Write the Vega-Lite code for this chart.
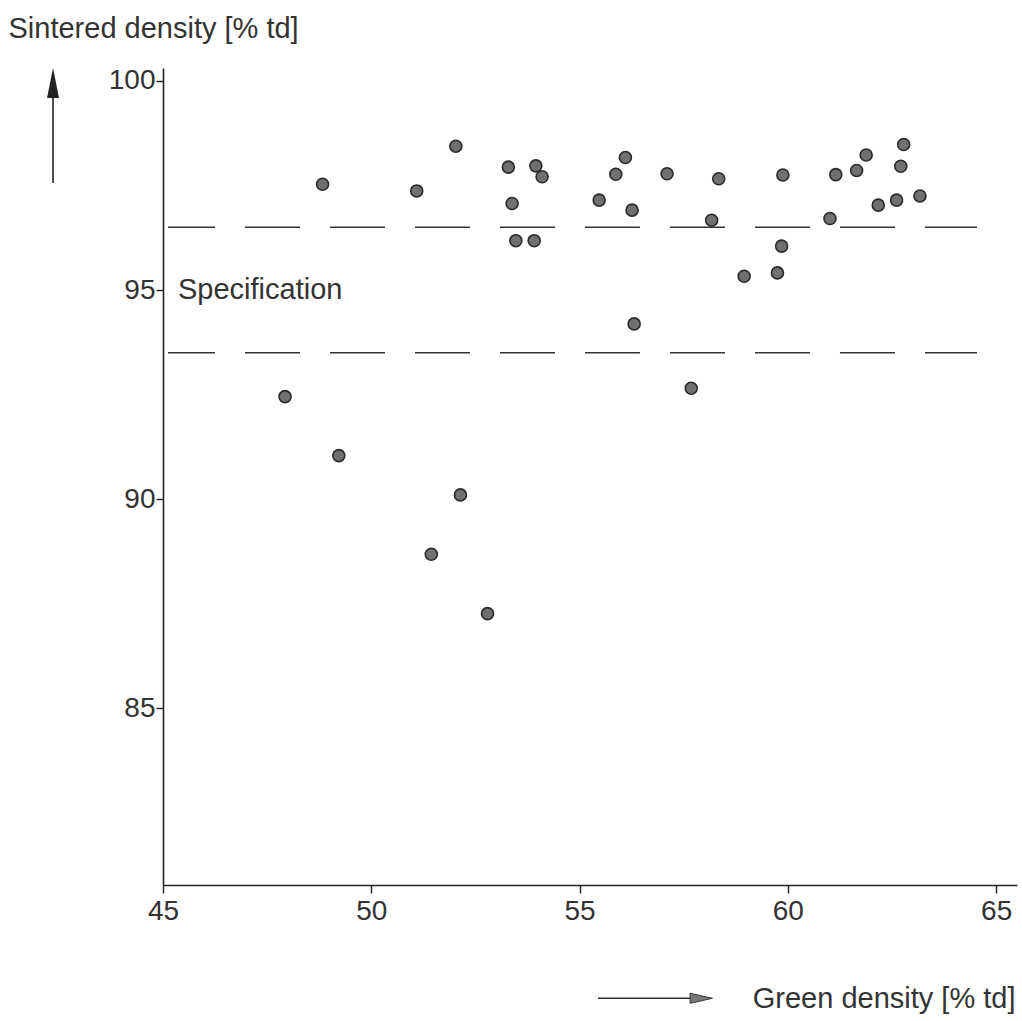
{
  "$schema": "https://vega.github.io/schema/vega-lite/v6.json",
  "autosize": "none",
  "width": 854,
  "height": 817,
  "padding": {"left": 163, "top": 68, "right": 5, "bottom": 136},
  "background": "white",
  "config": {
    "view": {"stroke": null},
    "font": "Liberation Sans, Arial, sans-serif",
    "axis": {
      "grid": false,
      "domainColor": "#222",
      "domainWidth": 1.6,
      "tickColor": "#222",
      "tickWidth": 1.4,
      "tickSize": 8,
      "labelFlush": false,
      "labelFontSize": 28,
      "labelColor": "#333",
      "labelFont": "Liberation Sans, Arial, sans-serif",
      "titleFont": "Liberation Sans, Arial, sans-serif",
      "titleFontSize": 29,
      "titleFontWeight": "normal",
      "titleColor": "#333"
    }
  },
  "datasets": {
    "points": [
      {"green": 47.93, "sintered": 92.45},
      {"green": 48.83, "sintered": 97.53},
      {"green": 49.22, "sintered": 91.04},
      {"green": 51.09, "sintered": 97.37},
      {"green": 51.44, "sintered": 88.68},
      {"green": 52.03, "sintered": 98.44},
      {"green": 52.14, "sintered": 90.10},
      {"green": 52.79, "sintered": 87.26},
      {"green": 53.29, "sintered": 97.94},
      {"green": 53.38, "sintered": 97.07},
      {"green": 53.47, "sintered": 96.18},
      {"green": 53.91, "sintered": 96.18},
      {"green": 53.95, "sintered": 97.97},
      {"green": 54.10, "sintered": 97.71},
      {"green": 55.47, "sintered": 97.15},
      {"green": 55.87, "sintered": 97.77},
      {"green": 56.10, "sintered": 98.17},
      {"green": 56.26, "sintered": 96.91},
      {"green": 56.31, "sintered": 94.19},
      {"green": 57.10, "sintered": 97.78},
      {"green": 57.68, "sintered": 92.65},
      {"green": 58.17, "sintered": 96.67},
      {"green": 58.34, "sintered": 97.66},
      {"green": 58.95, "sintered": 95.33},
      {"green": 59.75, "sintered": 95.41},
      {"green": 59.85, "sintered": 96.05},
      {"green": 59.88, "sintered": 97.75},
      {"green": 61.01, "sintered": 96.71},
      {"green": 61.15, "sintered": 97.76},
      {"green": 61.65, "sintered": 97.86},
      {"green": 61.88, "sintered": 98.23},
      {"green": 62.17, "sintered": 97.03},
      {"green": 62.61, "sintered": 97.15},
      {"green": 62.71, "sintered": 97.96},
      {"green": 62.78, "sintered": 98.48},
      {"green": 63.17, "sintered": 97.25}
    ],
    "limits": [
      {"limit": 96.5},
      {"limit": 93.5}
    ],
    "one": [{}]
  },
  "layer": [
    {
      "data": {"name": "limits"},
      "mark": {"type": "rule", "color": "#333", "strokeWidth": 1.5, "strokeDash": [55, 30], "strokeDashOffset": 8},
      "encoding": {
        "y": {"field": "limit", "type": "quantitative", "scale": {"domain": [80.77, 100.31]}},
        "x": {"datum": 45.12, "type": "quantitative", "scale": {"domain": [45, 65.5]}},
        "x2": {"datum": 64.54}
      }
    },
    {
      "data": {"name": "points"},
      "mark": {"type": "point", "shape": "circle", "filled": true, "fill": "#707070", "stroke": "#2a2a2a", "strokeWidth": 1.6, "size": 144, "opacity": 1},
      "encoding": {
        "x": {
          "field": "green", "type": "quantitative",
          "scale": {"domain": [45, 65.5], "nice": false, "zero": false},
          "axis": {
            "values": [45, 50, 55, 60, 65],
            "title": "Green density [% td]",
            "titleX": 852, "titleY": 113, "titleAlign": "right", "titleBaseline": "middle",
            "labelPadding": 4
          }
        },
        "y": {
          "field": "sintered", "type": "quantitative",
          "scale": {"domain": [80.77, 100.31], "nice": false, "zero": false},
          "axis": {
            "values": [85, 90, 95, 100],
            "title": "Sintered density [% td]",
            "titleAngle": 0, "titleX": -155, "titleY": -40, "titleAlign": "left", "titleBaseline": "middle",
            "tickSize": 7, "labelPadding": 1
          }
        }
      }
    },
    {
      "data": {"name": "one"},
      "mark": {"type": "text", "text": "Specification", "align": "left", "baseline": "middle", "fontSize": 29, "color": "#333", "dx": 15},
      "encoding": {
        "x": {"datum": 45, "type": "quantitative"},
        "y": {"datum": 95, "type": "quantitative"}
      }
    },
    {
      "data": {"name": "one"},
      "mark": {"type": "rule", "color": "#222", "strokeWidth": 1.6, "clip": false},
      "encoding": {
        "x": {"datum": 42.36, "type": "quantitative"},
        "y": {"datum": 97.56, "type": "quantitative"},
        "y2": {"datum": 99.8}
      }
    },
    {
      "data": {"name": "one"},
      "mark": {"type": "point", "shape": "M0,-1L0.4,1L-0.4,1Z", "filled": true, "fill": "#222", "strokeWidth": 0, "size": 900, "opacity": 1, "clip": false},
      "encoding": {
        "x": {"datum": 42.36, "type": "quantitative"},
        "y": {"datum": 99.95, "type": "quantitative"}
      }
    },
    {
      "data": {"name": "one"},
      "mark": {"type": "rule", "color": "#333", "strokeWidth": 1.6, "clip": false},
      "encoding": {
        "x": {"datum": 55.44, "type": "quantitative"},
        "x2": {"datum": 57.7},
        "y": {"datum": 78.06, "type": "quantitative"}
      }
    },
    {
      "data": {"name": "one"},
      "mark": {"type": "point", "shape": "M-1,-0.45L1,0L-1,0.45Z", "filled": true, "fill": "#7a7a7a", "stroke": "#333", "strokeWidth": 1, "size": 500, "opacity": 1, "clip": false},
      "encoding": {
        "x": {"datum": 57.92, "type": "quantitative"},
        "y": {"datum": 78.06, "type": "quantitative"}
      }
    }
  ]
}
